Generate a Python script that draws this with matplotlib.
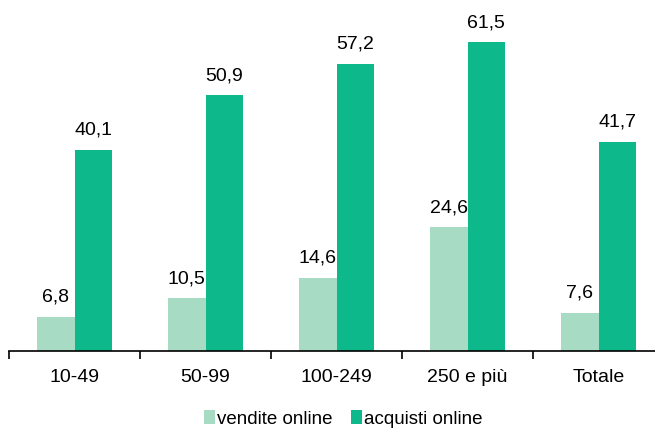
import numpy as np
import matplotlib.pyplot as plt

plt.rcParams['font.family'] = ['Liberation Sans', 'DejaVu Sans']

categories = ['10-49', '50-99', '100-249', '250 e più', 'Totale']
vendite = [6.8, 10.5, 14.6, 24.6, 7.6]
acquisti = [40.1, 50.9, 57.2, 61.5, 41.7]

col_v = '#a8dbc4'
col_a = '#0db98a'

fig = plt.figure(figsize=(6.55, 4.28), dpi=100)
ax = fig.add_axes([9 / 655, 77 / 428, 655 / 655, 351.5 / 428])

x = np.arange(len(categories))
w = 0.287
b1 = ax.bar(x - w / 2, vendite, w, color=col_v, label='vendite online')
b2 = ax.bar(x + w / 2, acquisti, w, color=col_a, label='acquisti online')

for bars, vals in ((b1, vendite), (b2, acquisti)):
    for r, v in zip(bars, vals):
        ax.annotate(f'{v:.1f}'.replace('.', ','),
                    (r.get_x() + r.get_width() / 2, v),
                    xytext=(0, 8), textcoords='offset points',
                    ha='center', va='bottom', fontsize=14)

ax.set_xlim(-0.5, 4.5)
ax.set_ylim(0, 70)
ax.set_yticks([])
for s in ['top', 'right', 'left']:
    ax.spines[s].set_visible(False)
ax.spines['bottom'].set_linewidth(1.2)

ax.set_xticks(x)
ax.set_xticklabels(categories, fontsize=14)
ax.tick_params(axis='x', which='major', length=0, pad=13)
ax.set_xticks(np.arange(-0.5, 5.0, 1.0), minor=True)
ax.tick_params(axis='x', which='minor', length=6, width=1.2, direction='out')

fig.legend(handles=[b1, b2], loc='center', bbox_to_anchor=(343 / 655, 1 - 419 / 428),
           ncol=2, frameon=False, fontsize=13.5, handlelength=0.6, handleheight=0.7,
           handletextpad=0.1, columnspacing=1.0)

fig.savefig('out.png', dpi=100)
